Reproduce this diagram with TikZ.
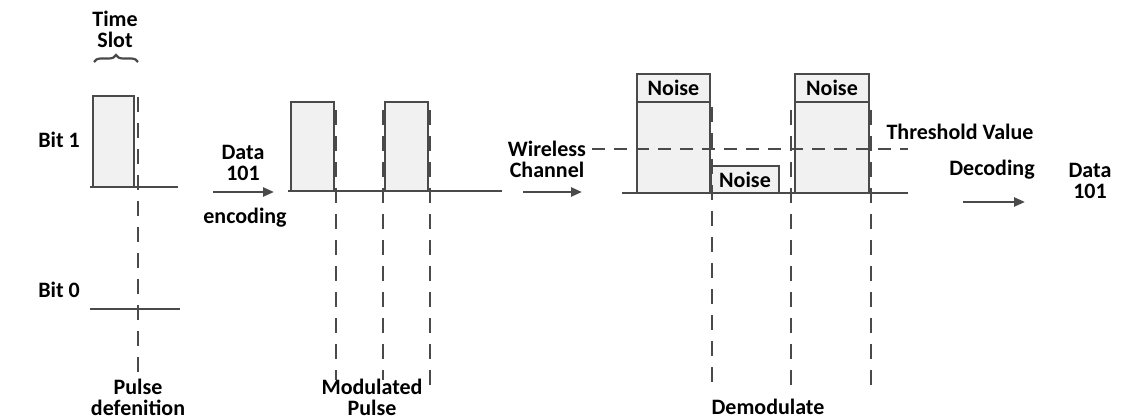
\documentclass[tikz,border=0pt]{standalone}
\usepackage{fontspec}
\setmainfont{Carlito}
\usepackage{xcolor}
\usetikzlibrary{decorations.pathreplacing,arrows.meta}
\definecolor{wave}{HTML}{4A4A4A}
\definecolor{pulsefill}{HTML}{F1F1F1}
\begin{document}
\begin{tikzpicture}[x=1pt, y=-1pt, >={Triangle[length=11pt,width=9pt]},
  every node/.style={font=\bfseries\fontsize{22}{21}\selectfont, align=center, inner sep=0pt},
  pulse/.style={draw=wave, line width=2.6pt, fill=pulsefill},
  base/.style={draw=wave, line width=2pt},
  guide/.style={draw=wave, line width=1.5pt, dash pattern=on 15pt off 11pt},
  flow/.style={draw=wave, line width=2.4pt, ->},
  noisebox/.style={draw=wave, line width=2.6pt, fill=pulsefill, minimum height=27pt}]
  \useasboundingbox (0,0) rectangle (1123,419);
  % pulse definition
  \node (slot) at (115,29) {Time\\Slot};
  \draw[line width=2.2pt, wave, decorate, decoration={brace, amplitude=7pt}] (94,62) -- (138,62);
  \node (bitone) at (59,140) {Bit 1};
  \node (bitzero) at (59,290) {Bit 0};
  \draw[pulse] (93,187) -- (93,96) -- (134,96) -- (134,187);
  \draw[base] (90,187) -- (178,187);
  \draw[base] (90,309) -- (180,309);
  \draw[guide] (138,97) -- (138,377);
  \node (define) at (138,397) {Pulse\\defenition};
  % encoding
  \node (datain) at (243,163) {Data\\101};
  \node (encode) at (245,218) {encoding};
  \coordinate (encA) at (213,192);
  \coordinate (encB) at (274,192);
  \draw[flow] (encA) -- (encB);
  \draw[pulse] (291,191) -- (291,102) -- (334,102) -- (334,191);
  \draw[pulse] (385,191) -- (385,102) -- (428,102) -- (428,191);
  \draw[base] (288,191) -- (502,191);
  \draw[guide] (336,110) -- (336,380);
  \draw[guide] (383,110) -- (383,380);
  \draw[guide] (430,110) -- (430,385);
  \node (modul) at (372,397) {Modulated\\Pulse};
  % channel
  \node (channel) at (547,159) {Wireless\\Channel};
  \coordinate (chanA) at (523,192);
  \coordinate (chanB) at (582,192);
  \draw[flow] (chanA) -- (chanB);
  \draw[pulse] (637,193) -- (637,74) -- (710,74) -- (710,193);
  \draw[pulse] (795,193) -- (795,74) -- (869,74) -- (869,193);
  \node[noisebox, minimum width=73pt, minimum height=28pt] (noiseA) at (673.5,88) {Noise};
  \node[noisebox, minimum width=74pt, minimum height=28pt] (noiseB) at (832,88) {Noise};
  \node[noisebox, minimum width=68pt] (noiseC) at (745,179.5) {Noise};
  \draw[base] (622,193) -- (908,193);
  \draw[draw=wave, line width=1.8pt, dash pattern=on 13pt off 9pt] (592,149) -- (908,149);
  \node (thresh) at (960,132) {Threshold Value};
  \draw[guide] (712,107) -- (712,387);
  \draw[guide] (791,110) -- (791,387);
  \draw[guide] (871,110) -- (871,387);
  \node (demod) at (768,407) {Demodulate};
  % decoding
  \node (decode) at (992,170) {Decoding};
  \coordinate (decA) at (963,202);
  \coordinate (decB) at (1025,202);
  \draw[flow] (decA) -- (decB);
  \node (dataout) at (1090,181) {Data\\101};
\end{tikzpicture}
\end{document}
